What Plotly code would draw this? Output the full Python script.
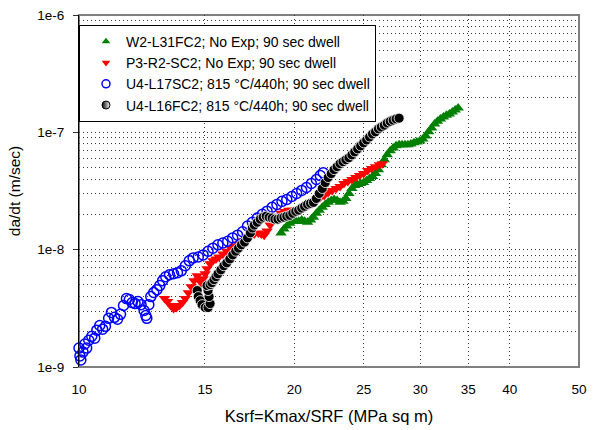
import plotly.graph_objects as go

# ---- data ----
green_name = "W2-L31FC2; No Exp; 90 sec dwell"
green_x = [19.16,19.34,19.52,19.71,19.90,20.09,20.28,20.48,20.67,20.87,
           21.07,21.27,21.47,21.67,21.88,22.09,22.30,22.52,22.73,22.95,
           23.17,23.39,23.61,23.84,24.07,24.29,24.52,24.76,25.00,25.24,
           25.48,25.72,25.97,26.22,26.46,26.72,26.97,27.23,27.49,27.75,
           28.02,28.29,28.56,28.83,29.10,29.39,29.67,29.95,30.24,30.53,
           30.82,31.11,31.41,31.71,32.01,32.32,32.63,32.94,33.26,33.57,33.89]
green_y = [1.39e-8,1.50e-8,1.59e-8,1.68e-8,1.75e-8,1.75e-8,1.75e-8,1.79e-8,1.75e-8,1.71e-8,
           1.79e-8,1.89e-8,2.04e-8,2.17e-8,2.30e-8,2.43e-8,2.53e-8,2.63e-8,2.68e-8,2.63e-8,
           2.53e-8,2.58e-8,2.73e-8,3.01e-8,3.32e-8,3.52e-8,3.59e-8,3.66e-8,3.73e-8,3.88e-8,
           4.04e-8,4.20e-8,4.45e-8,4.81e-8,5.30e-8,5.84e-8,6.43e-8,6.95e-8,7.37e-8,7.67e-8,
           7.82e-8,7.82e-8,7.82e-8,7.82e-8,7.97e-8,8.14e-8,8.29e-8,8.45e-8,8.78e-8,9.31e-8,
           1.01e-7,1.09e-7,1.18e-7,1.24e-7,1.30e-7,1.35e-7,1.40e-7,1.43e-7,1.49e-7,1.55e-7,1.61e-7]

red_name = "P3-R2-SC2; No Exp; 90 sec dwell"
red_x = [13.17,13.30,13.43,13.56,13.69,13.82,13.95,14.08,14.22,14.35,
         14.48,14.63,14.72,14.82,14.91,15.01,15.10,15.25,15.39,15.54,
         15.69,15.89,16.09,16.30,16.50,16.71,16.93,17.15,17.36,17.58,
         17.81,17.98,18.15,18.32,18.50,18.68,18.91,19.16,19.40,19.65,
         19.90,20.15,20.41,20.67,20.93,21.20,21.47,21.74,22.02,22.30,
         22.59,22.88,23.17,23.46,23.76,24.07,24.37,24.68,25.00,25.32,
         25.64,25.97,26.30,26.55]
red_y = [3.83e-9,3.61e-9,3.34e-9,3.15e-9,3.21e-9,3.34e-9,3.54e-9,3.83e-9,4.30e-9,4.84e-9,
         5.44e-9,6.00e-9,5.55e-9,5.23e-9,5.65e-9,6.23e-9,6.87e-9,7.57e-9,8.03e-9,8.34e-9,
         8.68e-9,9.19e-9,9.70e-9,1.03e-8,1.07e-8,1.12e-8,1.19e-8,1.23e-8,1.31e-8,1.36e-8,
         1.39e-8,1.36e-8,1.33e-8,1.44e-8,1.62e-8,1.79e-8,1.93e-8,2.04e-8,2.12e-8,2.17e-8,
         2.17e-8,2.17e-8,2.21e-8,2.30e-8,2.39e-8,2.48e-8,2.63e-8,2.79e-8,2.89e-8,3.07e-8,
         3.19e-8,3.32e-8,3.46e-8,3.66e-8,3.81e-8,3.96e-8,4.12e-8,4.28e-8,4.45e-8,4.72e-8,
         4.91e-8,5.10e-8,5.30e-8,5.41e-8]

blue_name = "U4-L17SC2; 815 °C/440h; 90 sec dwell"
blue_x = [10.00,10.03,10.06,10.13,10.19,10.25,10.32,10.42,10.52,10.59,
          10.69,10.79,10.89,11.00,11.10,11.21,11.32,11.43,11.54,11.65,
          11.76,11.87,11.98,12.09,12.21,12.33,12.40,12.44,12.52,12.60,
          12.72,12.85,12.97,13.09,13.22,13.38,13.56,13.73,13.90,14.08,
          14.26,14.44,14.68,14.91,15.15,15.39,15.64,15.89,16.14,16.40,
          16.66,16.93,17.20,17.47,17.75,18.04,18.32,18.62,18.91,19.22,
          19.52,19.84,20.15,20.48,20.80,21.13,21.47,21.74,21.95]
blue_y = [1.45e-9,1.24e-9,1.15e-9,1.34e-9,1.57e-9,1.45e-9,1.69e-9,1.83e-9,1.76e-9,2.06e-9,
          2.26e-9,2.10e-9,2.22e-9,2.60e-9,2.92e-9,2.65e-9,2.55e-9,2.81e-9,3.34e-9,3.83e-9,
          3.76e-9,3.54e-9,3.47e-9,3.61e-9,3.40e-9,3.03e-9,2.75e-9,2.60e-9,3.40e-9,3.98e-9,
          4.31e-9,4.56e-9,4.94e-9,5.44e-9,5.88e-9,6.11e-9,6.23e-9,6.36e-9,6.60e-9,7.29e-9,
          8.03e-9,8.51e-9,8.68e-9,9.02e-9,9.70e-9,1.03e-8,1.10e-8,1.14e-8,1.18e-8,1.26e-8,
          1.33e-8,1.42e-8,1.59e-8,1.71e-8,1.86e-8,2.00e-8,2.13e-8,2.30e-8,2.43e-8,2.58e-8,
          2.68e-8,2.84e-8,3.01e-8,3.20e-8,3.39e-8,3.66e-8,3.96e-8,4.28e-8,4.53e-8]

black_name = "U4-L16FC2; 815 °C/440h; 90 sec dwell"
black_x = [14.63,14.68,14.77,14.86,15.01,15.15,15.25,15.20,15.15,15.10,
           15.25,15.34,15.44,15.54,15.64,15.79,15.94,16.09,16.25,16.40,
           16.56,16.71,16.87,17.04,17.20,17.36,17.47,17.58,17.75,17.92,
           18.09,18.27,18.44,18.62,18.79,18.97,19.16,19.34,19.52,19.71,
           19.90,20.09,20.28,20.48,20.67,20.87,21.07,21.27,21.47,21.67,
           21.88,22.09,22.30,22.52,22.73,22.95,23.17,23.39,23.61,23.84,
           24.07,24.29,24.52,24.76,25.00,25.24,25.48,25.72,25.97,26.22,
           26.46,26.72,26.97,27.23,27.49,27.75,28.02]
black_y = [4.48e-9,3.98e-9,3.68e-9,3.40e-9,3.21e-9,3.21e-9,3.47e-9,3.98e-9,4.48e-9,4.94e-9,
           5.03e-9,5.23e-9,5.55e-9,5.88e-9,6.23e-9,6.73e-9,7.29e-9,7.72e-9,8.34e-9,9.02e-9,
           9.70e-9,1.03e-8,1.10e-8,1.16e-8,1.26e-8,1.39e-8,1.53e-8,1.62e-8,1.71e-8,1.82e-8,
           1.89e-8,1.93e-8,1.89e-8,1.86e-8,1.82e-8,1.82e-8,1.86e-8,1.89e-8,1.93e-8,1.96e-8,
           2.04e-8,2.12e-8,2.17e-8,2.26e-8,2.34e-8,2.43e-8,2.48e-8,2.53e-8,2.73e-8,3.01e-8,
           3.32e-8,3.73e-8,4.12e-8,4.45e-8,4.81e-8,5.10e-8,5.41e-8,5.62e-8,5.84e-8,6.07e-8,
           6.43e-8,6.82e-8,7.23e-8,7.67e-8,8.14e-8,8.61e-8,9.13e-8,9.68e-8,1.01e-7,1.07e-7,
           1.11e-7,1.15e-7,1.20e-7,1.24e-7,1.27e-7,1.30e-7,1.32e-7]

x_ticks = [10, 15, 20, 25, 30, 35, 40, 50]
x_ticktext = ["10", "15", "20", "25", "30", "35", "40", "50"]
y_ticks = [1e-9, 1e-8, 1e-7, 1e-6]
y_ticktext = ["1e-9", "1e-8", "1e-7", "1e-6"]
y_minor = [m * 10.0 ** e for e in (-9, -8, -7) for m in range(2, 10)]

x_title = "Ksrf=Kmax/SRF (MPa sq m)"
y_title = "da/dt (m/sec)"

FONT = "Liberation Sans, Arial, sans-serif"
GRID = "#3a3a3a"
DOTS = "1px,3px"

half_black = dict(symbol="circle", color="black",
                  gradient=dict(type="horizontal", color="white"),
                  line=dict(width=1, color="black"))

series = [
    (green_name, green_x, green_y, "g",
     dict(symbol="triangle-up", color="#008000", line=dict(width=0)), None),
    (red_name, red_x, red_y, "r",
     dict(symbol="triangle-down", color="#ff0000", line=dict(width=0)), None),
    (blue_name, blue_x, blue_y, "b",
     dict(symbol="circle-open", color="#0000ff", line=dict(width=1.5, color="#0000ff")), None),
    (black_name, black_x, black_y, "k",
     dict(symbol="circle", color="black", line=dict(width=0.8, color="white")), half_black),
]
plot_size = {"g": 10, "r": 10, "b": 10, "k": 10}
legend_size = {"g": 7.5, "r": 7.5, "b": 8, "k": 8}

fig = go.Figure()
for name, xs, ys, key, mk, _ in series:
    fig.add_trace(go.Scatter(
        x=xs, y=ys, mode="markers", name=name, legendgroup=key, showlegend=False,
        marker=dict(size=plot_size[key], **mk), cliponaxis=False))
for name, xs, ys, key, mk, lmk in series:
    # legend entry (smaller symbol, like the reference legend)
    fig.add_trace(go.Scatter(
        x=[None], y=[None], mode="markers", name=name, legendgroup=key,
        marker=dict(size=legend_size[key], **(lmk or mk))))

fig.update_layout(
    width=595, height=430,
    margin=dict(l=79, r=8, t=14, b=61),
    paper_bgcolor="white", plot_bgcolor="white",
    font=dict(family=FONT, size=13.5, color="black"),
    showlegend=True,
    legend=dict(x=0, y=0.972, xanchor="left", yanchor="top",
                bgcolor="white", bordercolor="black", borderwidth=1,
                font=dict(family=FONT, size=14, color="black"),
                indentation=6, tracegroupgap=0),
    xaxis=dict(type="log", range=[1, 1.69897],
               tickmode="array", tickvals=x_ticks, ticktext=x_ticktext,
               ticks="", ticklabelstandoff=12,
               showgrid=True, gridcolor=GRID, gridwidth=1, griddash=DOTS,
               showline=False, zeroline=False,
               title=dict(text=x_title, font=dict(family=FONT, size=16.5), standoff=14)),
    yaxis=dict(type="log", range=[-9, -6],
               tickmode="array", tickvals=y_ticks, ticktext=y_ticktext,
               ticks="outside", ticklen=5, tickcolor="#333", tickwidth=1,
               ticklabelstandoff=6,
               showgrid=True, gridcolor=GRID, gridwidth=1, griddash=DOTS,
               minor=dict(tickmode="array", tickvals=y_minor, ticks="",
                          showgrid=True, gridcolor=GRID, gridwidth=1, griddash=DOTS),
               showline=True, linecolor="black", linewidth=1, zeroline=False,
               title=dict(text=y_title, font=dict(family=FONT, size=15.5), standoff=12)),
    shapes=[dict(type="rect", xref="paper", yref="paper", x0=0, y0=0, x1=1, y1=1,
                 line=dict(color="#7f7f7f", width=2), layer="between")],
)

fig.write_html("out.html")
